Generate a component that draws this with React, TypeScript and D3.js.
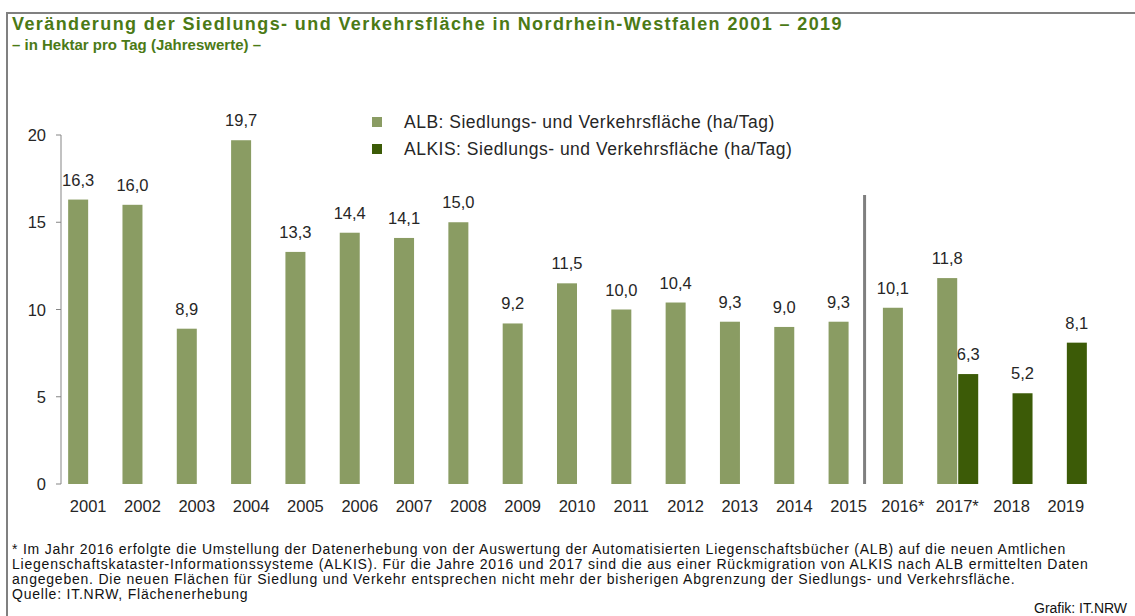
import React from "react";
import * as d3 from "d3";

const categories = ["2001","2002","2003","2004","2005","2006","2007","2008","2009","2010","2011","2012","2013","2014","2015","2016*","2017*","2018","2019"];
const albValues: (number | null)[] = [16.3,16.0,8.9,19.7,13.3,14.4,14.1,15.0,9.2,11.5,10.0,10.4,9.3,9.0,9.3,10.1,11.8,null,null];
const alkisValues: (number | null)[] = [null,null,null,null,null,null,null,null,null,null,null,null,null,null,null,null,6.3,5.2,8.1];
const yTicks = [0,5,10,15,20];
const seriesNames = ["ALB: Siedlungs- und Verkehrsfläche (ha/Tag)", "ALKIS: Siedlungs- und Verkehrsfläche (ha/Tag)"];
const titleLines = ["Veränderung der Siedlungs- und Verkehrsfläche in Nordrhein-Westfalen 2001 – 2019", "– in Hektar pro Tag (Jahreswerte) –"];
const footnoteLines = [
  "* Im Jahr 2016 erfolgte die Umstellung der Datenerhebung von der Auswertung der Automatisierten Liegenschaftsbücher (ALB) auf die neuen Amtlichen",
  "Liegenschaftskataster-Informationssysteme (ALKIS). Für die Jahre 2016 und 2017 sind die aus einer Rückmigration von ALKIS nach ALB ermittelten Daten",
  "angegeben. Die neuen Flächen für Siedlung und Verkehr entsprechen nicht mehr der bisherigen Abgrenzung der Siedlungs- und Verkehrsfläche.",
  "Quelle: IT.NRW, Flächenerhebung",
];
const credit = "Grafik: IT.NRW";

const W = 1135, H = 616;
const FONT = "'Liberation Sans', Arial, sans-serif";
const C_ALB = "#8a9c63";
const C_ALKIS = "#3c5b07";
const C_TITLE = "#4b7a16";
const C_TEXT = "#262626";
const C_GREY = "#858585";

const fmt = (v: number) => v.toFixed(1).replace(".", ",");

export default function App() {
  const x = d3.scaleBand<string>().domain(categories).range([61, 1093]);
  const y = d3.scaleLinear().domain([0, 20]).range([484, 135]);
  const bw = 20;
  const sepX = (x("2015")! + x.bandwidth() / 2) + 16;

  return (
    <svg width={W} height={H} style={{ position: "absolute", left: 0, top: 0, background: "#fff" }} fontFamily={FONT}>
      <rect x={0} y={0} width={W} height={H} fill="#fff" />
      {/* frame */}
      <line x1={6} x2={W} y1={13} y2={13} stroke="#808080" strokeWidth={2} />
      <line x1={7} x2={7} y1={12} y2={H} stroke="#808080" strokeWidth={2} />

      {/* title */}
      <text x={12} y={30} fill={C_TITLE} fontWeight="bold" fontSize={18} letterSpacing={1.4}>{titleLines[0]}</text>
      <text x={12} y={50} fill={C_TITLE} fontWeight="bold" fontSize={15} letterSpacing={0}>{titleLines[1]}</text>

      {/* y axis */}
      <line x1={61} x2={61} y1={y(20)} y2={y(0)} stroke={C_GREY} strokeWidth={1} />
      {yTicks.map((t) => (
        <g key={t}>
          <line x1={56} x2={61} y1={y(t)} y2={y(t)} stroke={C_GREY} strokeWidth={1} />
          <text x={46} y={y(t) + 6} textAnchor="end" fontSize={16.5} fill={C_TEXT}>{t}</text>
        </g>
      ))}

      {/* separator */}
      <line x1={sepX} x2={sepX} y1={195} y2={y(0)} stroke="#7f7f7f" strokeWidth={3} />

      {/* bars */}
      {categories.map((c, i) => {
        const cx = x(c)! + x.bandwidth() / 2;
        const a = albValues[i];
        const k = alkisValues[i];
        return (
          <g key={c}>
            {a != null && (
              <g>
                <rect x={cx - bw} y={y(a)} width={bw} height={y(0) - y(a)} fill={C_ALB} />
                <text x={cx - bw / 2} y={y(a) - 14} textAnchor="middle" fontSize={16.5} fill={C_TEXT}>{fmt(a)}</text>
              </g>
            )}
            {k != null && (
              <g>
                <rect x={cx + 1} y={y(k)} width={bw} height={y(0) - y(k)} fill={C_ALKIS} />
                <text x={cx + 1 + bw / 2} y={y(k) - 14} textAnchor="middle" fontSize={16.5} fill={C_TEXT}>{fmt(k)}</text>
              </g>
            )}
            <text x={cx} y={512} textAnchor="middle" fontSize={16.5} fill={C_TEXT}>{c}</text>
          </g>
        );
      })}

      {/* legend */}
      {seriesNames.map((s, i) => (
        <g key={s}>
          <rect x={372} y={117 + i * 27} width={10} height={10} fill={i === 0 ? C_ALB : C_ALKIS} />
          <text x={404} y={128 + i * 27} fontSize={17.5} letterSpacing={0.5} fill={C_TEXT}>{s}</text>
        </g>
      ))}

      {/* footnote */}
      {footnoteLines.map((t, i) => (
        <text key={i} x={12} y={554 + i * 15} fontSize={14} letterSpacing={0.78} fill="#111">{t}</text>
      ))}
      <text x={1034} y={613} fontSize={14} letterSpacing={0} fill="#111">{credit}</text>
    </svg>
  );
}
